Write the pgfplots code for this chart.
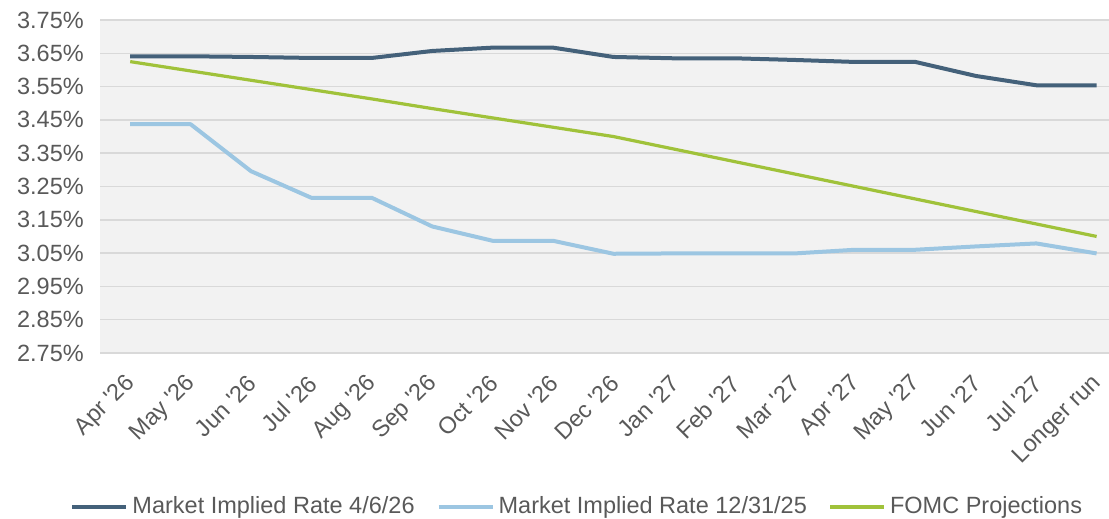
\documentclass[border=0pt]{standalone}
\usepackage{pgfplots}
\pgfplotsset{compat=1.18}
\usepackage{fontspec}
\setmainfont{Liberation Sans}
\definecolor{darkline}{HTML}{44617A}
\definecolor{lightline}{HTML}{9CC6E2}
\definecolor{greenline}{HTML}{A0C23A}
\definecolor{txtgrey}{HTML}{595959}
\definecolor{bggrey}{HTML}{F2F2F2}
\definecolor{gridgrey}{HTML}{D9D9D9}
\begin{document}
\begin{tikzpicture}
\fontsize{11.75}{14}\selectfont
\path[use as bounding box] (0,0) rectangle (554.5pt,259.5pt);
\begin{axis}[
  at={(50pt,83pt)}, anchor=south west,
  scale only axis, width=504.5pt, height=166.5pt,
  xmin=-0.5, xmax=16.205, ymin=2.75, ymax=3.75,
  axis background/.style={fill=bggrey},
  axis line style={draw=none},
  tick style={draw=none},
  ymajorgrids, grid style={gridgrey, line width=0.75pt},
  ytick={2.75,2.85,2.95,3.05,3.15,3.25,3.35,3.45,3.55,3.65,3.75},
  yticklabels={2.75\%,2.85\%,2.95\%,3.05\%,3.15\%,3.25\%,3.35\%,3.45\%,3.55\%,3.65\%,3.75\%},
  xtick={0,...,16},
  xticklabels={Apr \textquotesingle26,May \textquotesingle26,Jun \textquotesingle26,Jul \textquotesingle26,Aug \textquotesingle26,Sep \textquotesingle26,Oct \textquotesingle26,Nov \textquotesingle26,Dec \textquotesingle26,Jan \textquotesingle27,Feb \textquotesingle27,Mar \textquotesingle27,Apr \textquotesingle27,May \textquotesingle27,Jun \textquotesingle27,Jul \textquotesingle27,Longer run},
  ticklabel style={font=\fontsize{11.75}{14}\selectfont, text=txtgrey},
  yticklabel style={xshift=-4pt},
  xticklabel style={xshift=3.5pt, yshift=-10.5pt, rotate=45, anchor=east},
  legend style={at={(0.474,-0.4625)}, anchor=center, draw=none, fill=none,
    font=\fontsize{11.75}{14}\selectfont, text=txtgrey,
    /tikz/every even column/.append style={column sep=9pt},
    inner sep=0pt},
  legend columns=3,
  legend image code/.code={\draw[#1] (0pt,0pt) -- (27pt,0pt);},
  legend cell align=left,
]
\addplot[darkline, line width=2pt, line join=round] coordinates {
(0,3.641) (1,3.641) (2,3.639) (3,3.636) (4,3.636) (5,3.657) (6,3.667) (7,3.667)
(8,3.639) (9,3.635) (10,3.635) (11,3.630) (12,3.624) (13,3.624) (14,3.582) (15,3.554) (16,3.554)};
\addlegendentry{Market Implied Rate 4/6/26}
\addplot[lightline, line width=2pt, line join=round] coordinates {
(0,3.437) (1,3.437) (2,3.296) (3,3.216) (4,3.216) (5,3.130) (6,3.087) (7,3.087)
(8,3.048) (9,3.049) (10,3.049) (11,3.049) (12,3.060) (13,3.060) (14,3.070) (15,3.079) (16,3.049)};
\addlegendentry{Market Implied Rate 12/31/25}
\addplot[greenline, line width=1.6pt, line join=round] coordinates {
(0,3.625) (1,3.597) (2,3.569) (3,3.541) (4,3.513) (5,3.484) (6,3.456) (7,3.428)
(8,3.400) (9,3.3625) (10,3.325) (11,3.2875) (12,3.25) (13,3.2125) (14,3.175) (15,3.1375) (16,3.10)};
\addlegendentry{FOMC Projections}
\end{axis}
\end{tikzpicture}
\end{document}
